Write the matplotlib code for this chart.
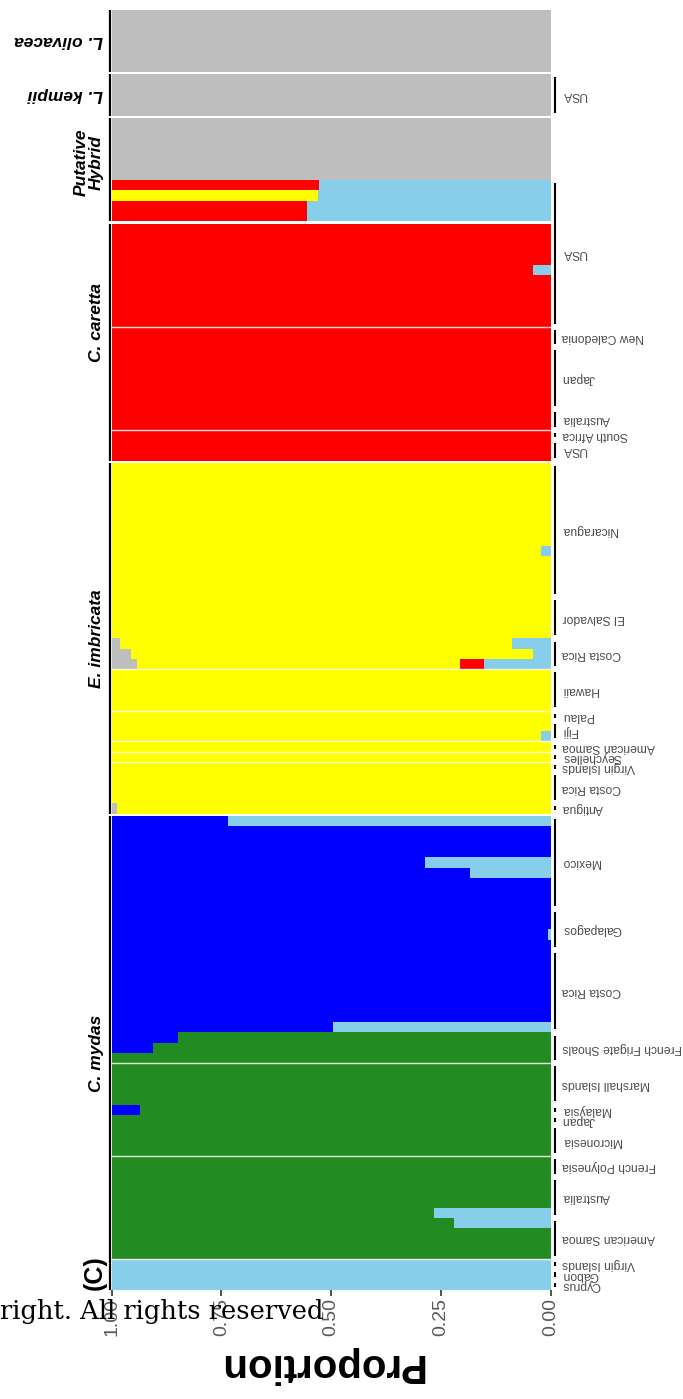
import numpy as np
import matplotlib.pyplot as plt
from matplotlib.transforms import blended_transform_factory

plt.rcParams['font.family'] = ['Liberation Sans', 'DejaVu Sans']

# cluster order, stacked from 0.00 (right) towards 1.00 (left)
LB, RED, YEL, GRN, BLU, GRY = range(6)
cluster_colors = ['#87CEEB', '#FF0000', '#FFFF00', '#228B22', '#0000FF', '#BEBEBE']

# species facets (top to bottom as drawn)
species = ['L. olivacea', 'L. kempii', 'Putative\nHybrid', 'C. caretta', 'E. imbricata', 'C. mydas']
species_rot = [180, 180, 90, 90, 90, 90]
species_label_shift = [0, 0, -0.7, -1.9, 0, 0]   # in rows

# populations: species index, name, number of samples, main cluster
pop_species = [0, 1, 2, 2,
               3, 3, 3, 3, 3, 3,
               4, 4, 4, 4, 4, 4, 4, 4, 4, 4, 4,
               5, 5, 5, 5, 5, 5, 5, 5, 5, 5, 5, 5, 5, 5]
pop_names = ['', 'USA', '', 'USA',
             'USA', 'New Caledonia', 'Japan', 'Australia', 'South Africa', 'USA',
             'Nicaragua', 'El Salvador', 'Costa Rica', 'Hawaii', 'Palau', 'Fiji',
             'American Samoa', 'Seychelles', 'Virgin Islands', 'Costa Rica', 'Antigua',
             'Mexico', 'Galapagos', 'Costa Rica', 'French Frigate Shoals', 'Marshall Islands',
             'Malaysia', 'Japan', 'Micronesia', 'French Polynesia', 'Australia',
             'American Samoa', 'Virgin Islands', 'Gabon', 'Cyprus']
pop_n = [6, 4, 6, 4,
         10, 2, 6, 2, 1, 2,
         13, 4, 3, 4, 1, 2, 1, 1, 1, 3, 1,
         9, 4, 8, 3, 4, 1, 1, 3, 2, 4, 4, 1, 1, 1]
pop_main = [GRY, GRY, GRY, RED,
            RED, RED, RED, RED, RED, RED,
            YEL, YEL, YEL, YEL, YEL, YEL, YEL, YEL, YEL, YEL, YEL,
            BLU, BLU, BLU, GRN, GRN, GRN, GRN, GRN, GRN, GRN, GRN, LB, LB, LB]

# admixed samples: (population index, sample within population) -> minor proportions
admix = {
    (3, 0): {LB: 0.527}, (3, 1): {LB: 0.53, YEL: 0.47},
    (3, 2): {LB: 0.556}, (3, 3): {LB: 0.554},
    (4, 4): {LB: 0.04},
    (10, 8): {LB: 0.022},
    (12, 0): {LB: 0.089, GRY: 0.02},
    (12, 1): {LB: 0.041, GRY: 0.043},
    (12, 2): {LB: 0.153, RED: 0.053, GRY: 0.057},
    (15, 1): {LB: 0.022},
    (20, 0): {GRY: 0.012},
    (21, 0): {LB: 0.735}, (21, 4): {LB: 0.287}, (21, 5): {LB: 0.183},
    (22, 2): {LB: 0.007},
    (23, 7): {LB: 0.495},
    (24, 0): {BLU: 0.151}, (24, 1): {BLU: 0.093},
    (26, 0): {BLU: 0.064},
    (30, 3): {LB: 0.265}, (31, 0): {LB: 0.22},
}

# populations followed by a thin white separator
sep_after = [4, 7, 12, 13, 15, 16, 17, 24, 28, 31]

# ---- layout of samples ----
GAP = 0.25
starts = []
y = 0.0
prev = None
for i in range(len(pop_n)):
    if prev is not None and pop_species[i] != prev:
        y += GAP
    starts.append(y)
    y += pop_n[i]
    prev = pop_species[i]
total = y

yc, Q = [], []
for i, n in enumerate(pop_n):
    for r in range(n):
        q = np.zeros(6)
        minor = admix.get((i, r), {})
        for k, v in minor.items():
            q[k] = v
        q[pop_main[i]] = 1 - sum(v for k, v in minor.items() if k != pop_main[i])
        Q.append(q)
        yc.append(starts[i] + r + 0.5)
Q = np.array(Q)
yc = np.array(yc)

W, H = 683, 1399
fig = plt.figure(figsize=(W / 100, H / 100), dpi=100)
ax = fig.add_axes([111.7 / W, 1 - 1290 / H, 439 / W, 1280 / H])

cum = np.zeros(len(yc))
for k in range(6):
    ax.barh(yc, Q[:, k], left=cum, height=1.0, color=cluster_colors[k],
            linewidth=0, antialiased=False)
    cum += Q[:, k]

for i in sep_after:
    ax.axhline(starts[i] + pop_n[i], color='white', lw=1.0, alpha=0.85)

ax.set_xlim(1, 0)
ax.set_ylim(total, 0)
for s in ax.spines.values():
    s.set_visible(False)
ax.tick_params(axis='y', left=False, labelleft=False)
ax.set_xticks([1, 0.75, 0.5, 0.25, 0])
ax.set_xticklabels(['1.00', '0.75', '0.50', '0.25', '0.00'])
ax.tick_params(axis='x', length=4, width=1.2, color='#333333', labelsize=14,
               labelcolor='#595959', labelrotation=90, pad=2)

trans = blended_transform_factory(ax.transAxes, ax.transData)

# species brackets and labels (left)
for s, name in enumerate(species):
    idx = [i for i in range(len(pop_n)) if pop_species[i] == s]
    y_top = starts[idx[0]]
    y_bot = starts[idx[-1]] + pop_n[idx[-1]]
    ax.plot([-0.005, -0.005], [y_top, y_bot], transform=trans, clip_on=False,
            color='black', lw=1.6, solid_capstyle='butt')
    ymid = (y_top + y_bot) / 2 + species_label_shift[s]
    if species_rot[s] == 180:
        ax.text(-0.02, ymid, name, transform=trans, rotation=180,
                ha='right', va='center', fontsize=12.5, fontweight='bold', fontstyle='italic')
    else:
        ax.text(-0.0175, ymid, name, transform=trans, rotation=90,
                ha='right', va='center', fontsize=12.5, fontweight='bold',
                fontstyle='italic', multialignment='center', linespacing=1.0)

# population brackets and labels (right), merging consecutive same names
brackets = []
for i, name in enumerate(pop_names):
    if not name:
        continue
    a, b = starts[i], starts[i] + pop_n[i]
    if brackets and brackets[-1][0] == name and brackets[-1][3] == i - 1:
        brackets[-1][2] = b
        brackets[-1][3] = i
    else:
        brackets.append([name, a, b, i])
for name, a, b, _ in brackets:
    ax.plot([1.009, 1.009], [a + 0.3, b - 0.3], transform=trans, clip_on=False,
            color='black', lw=1.5, solid_capstyle='butt')
    ax.text(1.026, (a + b) / 2, name, transform=trans, rotation=180, ha='left',
            va='center', fontsize=8.7, color='#4d4d4d')

fig.text(320 / W, 1 - 1365 / H, 'Proportion', rotation=180, ha='center', va='center',
         fontsize=29, fontweight='bold')
fig.text(95 / W, 1 - 1273 / H, '(C)', rotation=90, ha='center', va='center',
         fontsize=18, fontweight='bold')
fig.text(0, 1 - 1311 / H, 'right. All rights reserved', ha='left', va='center',
         fontsize=18.5, family='DejaVu Serif')

fig.savefig('out.png', dpi=100)
